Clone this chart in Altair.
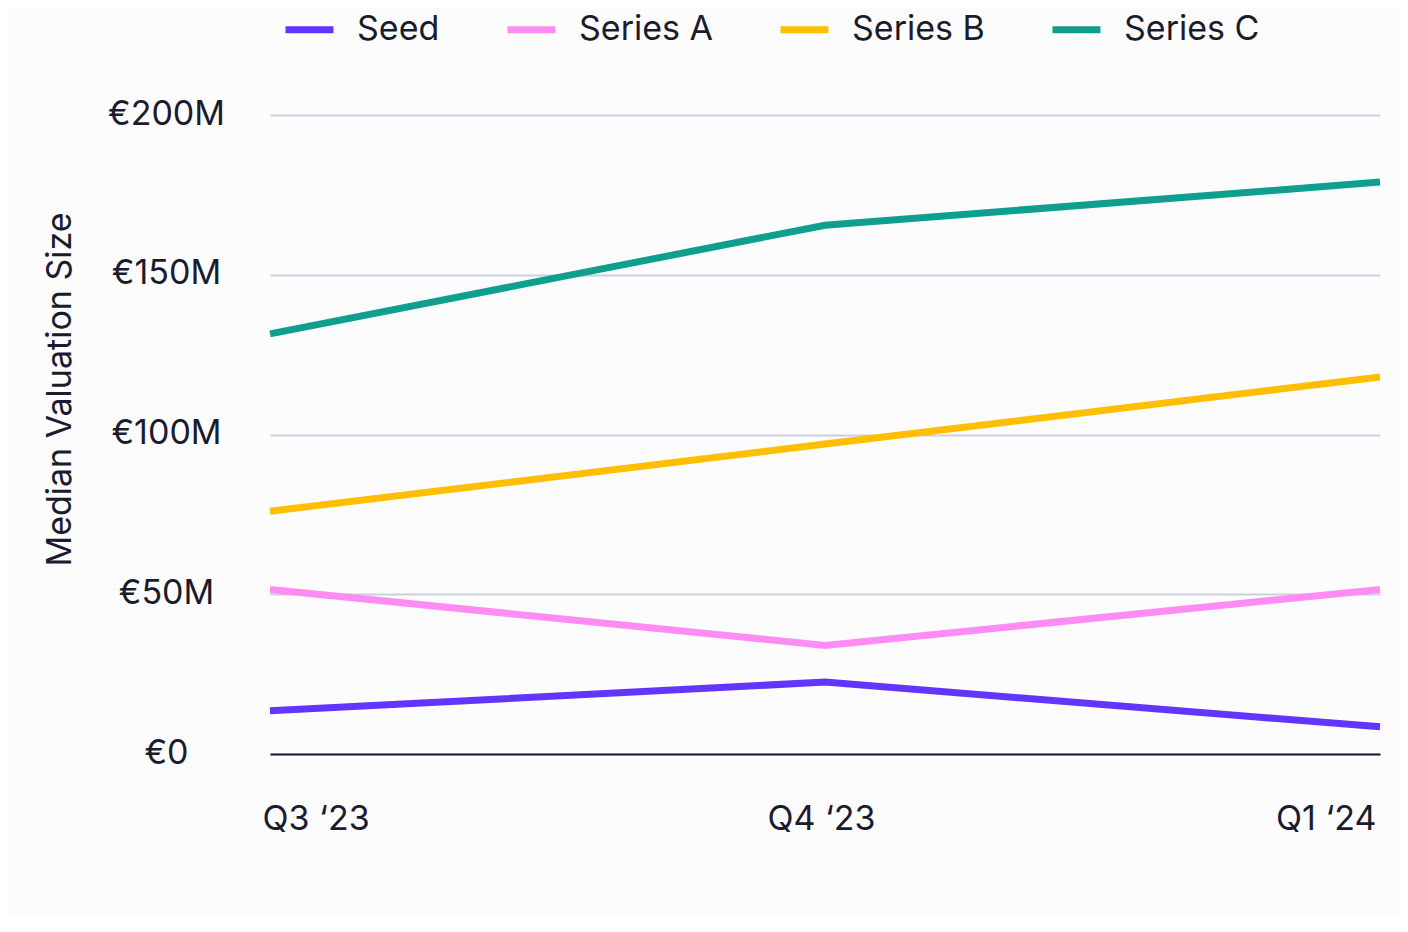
import altair as alt
import pandas as pd

quarters = ["Q3 \u201823", "Q4 \u201823", "Q1 \u201824"]
series = ["Seed", "Series A", "Series B", "Series C"]
seed = [13.5, 22.5, 8.5]
series_a = [51.5, 34.0, 51.5]
series_b = [76.0, 97.0, 118.0]
series_c = [131.5, 165.5, 179.0]
colors = ["#6236ff", "#ff8cf5", "#ffbf00", "#0f9f8f"]

rows = []
for name, vals in zip(series, [seed, series_a, series_b, series_c]):
    for q, v in zip(quarters, vals):
        rows.append({"quarter": q, "series": name, "value": v})
df = pd.DataFrame(rows)

FONT = "Inter"
TEXT = "#1b1b2e"

chart = alt.Chart(df).mark_line(strokeWidth=7, strokeCap="butt").encode(
    x=alt.X("quarter:N", sort=quarters, title=None,
            scale=alt.Scale(type="point", padding=0),
            axis=alt.Axis(labelAngle=0, labelFlush=True, labelPadding=48,
                          labelOffset={"condition": {"test": "datum.value == '" + quarters[0] + "'", "value": -8},
                                       "value": -4},
                          ticks=False, tickSize=0, domain=True,
                          domainColor=TEXT, domainWidth=2, grid=False,
                          labelFontSize=34, labelColor=TEXT, labelFont=FONT)),
    y=alt.Y("value:Q", title="Median Valuation Size",
            scale=alt.Scale(domain=[0, 200], nice=False),
            axis=alt.Axis(values=[0, 50, 100, 150, 200],
                          labelExpr="datum.value == 0 ? '\u20ac0' : '\u20ac' + datum.value + 'M'",
                          labelAlign="center", labelBaseline="middle",
                          labelPadding=104, labelOffset=-1, ticks=False, tickSize=0,
                          domain=False, grid=True, gridColor="#c9d1de",
                          gridWidth=1.8, labelFontSize=34, labelColor=TEXT,
                          labelFont=FONT, titleFont=FONT, titleFontSize=34,
                          titleFontWeight="normal", titleColor=TEXT,
                          titleAngle=270, titleAlign="center",
                          titleBaseline="middle", titleX=-210, titleY=274)),
    color=alt.Color("series:N", sort=series,
                    scale=alt.Scale(domain=series, range=colors),
                    legend=alt.Legend(title=None, orient="none",
                                      direction="horizontal",
                                      legendX=12, legendY=-113,
                                      symbolType="stroke", symbolSize=2304,
                                      symbolStrokeWidth=7, labelOffset=20,
                                      columnPadding=53, labelFontSize=34,
                                      labelFont=FONT, labelColor=TEXT)),
).properties(
    width=1110, height=639,
    autosize=alt.AutoSizeParams(type="none"),
    padding={"left": 262, "top": 107, "right": 20, "bottom": 160},
    background="#fcfcfc",
).configure_view(stroke=None)

chart.save("out.html", embed_options={"renderer": "svg", "actions": False})
